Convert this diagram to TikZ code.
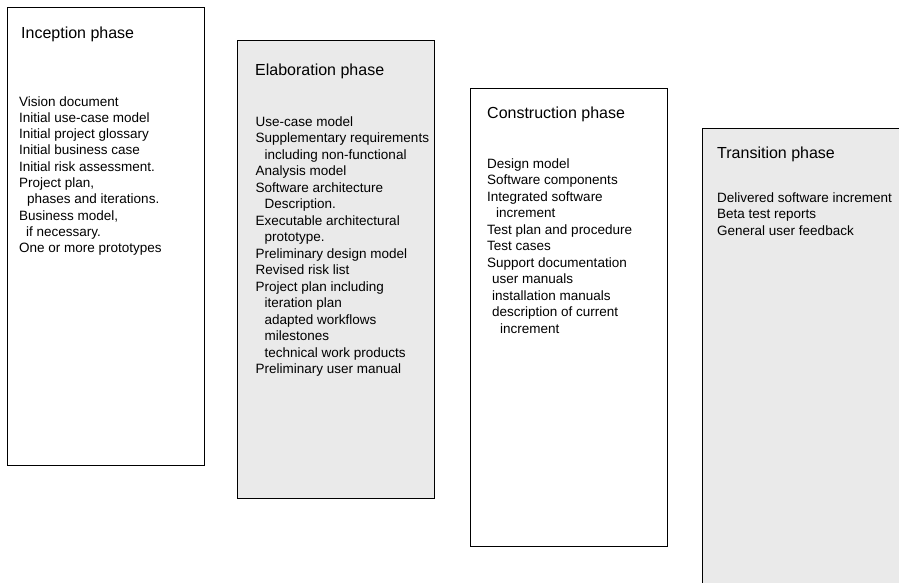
\documentclass[tikz,border=0pt]{standalone}
\usepackage{fontspec}
\setmainfont{Liberation Sans}
\definecolor{panelgray}{HTML}{EAEAEA}
\tikzset{
  phasebox/.style={draw=black, line width=1.4pt, anchor=north west, inner sep=0pt,
    minimum width=197pt, minimum height=458pt},
  phasetitle/.style={anchor=base west, inner sep=0pt, font=\fontsize{16}{18}\selectfont},
  item/.style={anchor=base west, inner sep=0pt, font=\fontsize{13.5}{16}\selectfont},
}
\begin{document}
\begin{tikzpicture}[x=1pt,y=-1pt]
\useasboundingbox (0,0) rectangle (899,582);

% the four phase panels
\node[phasebox, fill=white]      (inception)    at (6.5,6.5) {};
\node[phasebox, fill=panelgray]  (elaboration)  at (237,40) {};
\node[phasebox, fill=white]      (construction) at (470,87.5) {};
\node[phasebox, fill=panelgray]  (transition)   at (702,128) {};

% panel titles
\node[phasetitle] (inception-title)    at (21,38.5)   {Inception phase};
\node[phasetitle] (elaboration-title)  at (255,75.5)  {Elaboration phase};
\node[phasetitle] (construction-title) at (487,118.5) {Construction phase};
\node[phasetitle] (transition-title)   at (717,158.5) {Transition phase};

% artifact lists: {indent/text}
\foreach \ind/\txt [count=\i] in {
  0/{Vision document},
  0/{Initial use-case model},
  0/{Initial project glossary},
  0/{Initial business case},
  0/{Initial risk assessment.},
  0/{Project plan,},
  8/{phases and iterations.},
  0/{Business model,},
  7/{if necessary.},
  0/{One or more prototypes}}
  \node[item] (inception-item-\i) at (19+\ind, 106+16.3*\i-16.3) {\txt};

\foreach \ind/\txt [count=\i] in {
  0/{Use-case model},
  0/{Supplementary requirements},
  9/{including non-functional},
  0/{Analysis model},
  0/{Software architecture},
  9/{Description.},
  0/{Executable architectural},
  9/{prototype.},
  0/{Preliminary design model},
  0/{Revised risk list},
  0/{Project plan including},
  9/{iteration plan},
  9/{adapted workflows},
  9/{milestones},
  9/{technical work products},
  0/{Preliminary user manual}}
  \node[item] (elaboration-item-\i) at (255.5+\ind, 126+16.5*\i-16.5) {\txt};

\foreach \ind/\txt [count=\i] in {
  0/{Design model},
  0/{Software components},
  0/{Integrated software},
  9/{increment},
  0/{Test plan and procedure},
  0/{Test cases},
  0/{Support documentation},
  5/{user manuals},
  5/{installation manuals},
  5/{description of current},
  13/{increment}}
  \node[item] (construction-item-\i) at (487+\ind, 168+16.5*\i-16.5) {\txt};

\foreach \ind/\txt [count=\i] in {
  0/{Delivered software increment},
  0/{Beta test reports},
  0/{General user feedback}}
  \node[item] (transition-item-\i) at (717+\ind, 202+16.5*\i-16.5) {\txt};
\end{tikzpicture}
\end{document}
